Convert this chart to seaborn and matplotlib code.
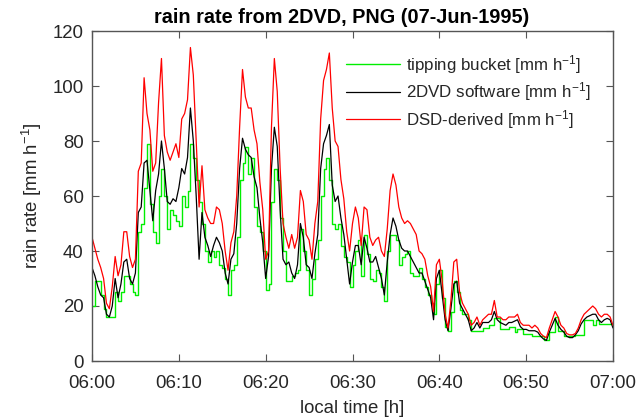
import numpy as np
import pandas as pd
import matplotlib
matplotlib.use("Agg")
import matplotlib.pyplot as plt
import seaborn as sns

# time grid: minutes after 06:00, 20-s steps
minutes = np.arange(181) / 3.0

dsd_derived = [
    45, 41, 37, 34, 30, 21, 19, 27, 38, 31, 35, 47, 47, 38, 34, 37, 69, 72,
    103, 90, 84, 69, 72, 94, 110, 82, 76, 73, 76, 79, 74, 88, 90, 95, 114, 104,
    80, 56, 71, 55, 52, 50, 50, 56, 55, 50, 40, 33, 43, 47, 60, 85, 106, 96,
    92, 92, 84, 79, 65, 55, 37, 40, 85, 110, 98, 70, 50, 45, 41, 46, 41, 45,
    62, 58, 46, 44, 37, 50, 58, 88, 102, 106, 112, 92, 80, 78, 66, 59, 47, 40,
    50, 56, 52, 42, 56, 55, 45, 42, 44, 45, 40, 38, 48, 62, 68, 64, 56, 52,
    50, 51, 50, 48, 46, 40, 39, 37, 31, 27, 18, 35, 37, 29, 17, 12, 22, 36,
    37, 25, 21, 19, 17, 13, 14, 16, 13, 15, 16, 17, 17, 22, 16, 16, 15, 15,
    16, 16, 16, 17, 14, 13, 13, 13, 12, 13, 12, 10, 9, 8.5, 12, 15, 18, 16,
    13, 12, 10, 9.5, 9.5, 10, 12, 15, 17, 18, 19, 20, 19, 17, 16, 17, 17, 16,
    13,
]

dvd_software = [
    34, 31, 27, 24, 23, 17, 16, 20, 30, 23, 28, 36, 37, 30, 28, 32, 54, 56,
    72, 73, 62, 51, 62, 68, 80, 70, 58, 57, 59, 58, 63, 70, 68, 74, 92, 80,
    60, 37, 54, 45, 42, 38, 42, 45, 43, 40, 32, 28, 37, 39, 50, 70, 81, 77,
    75, 74, 67, 63, 52, 43, 30, 38, 70, 85, 78, 55, 37, 35, 36, 32, 30, 35,
    50, 45, 35, 34, 30, 39, 46, 70, 79, 82, 86, 64, 58, 60, 52, 46, 37, 28,
    36, 42, 42, 35, 45, 41, 36, 36, 38, 34, 30, 24, 36, 46, 52, 49, 44, 41,
    40, 40, 38, 36, 34, 32, 32, 29, 26, 23, 15, 30, 33, 24, 15, 11, 19, 28,
    29, 21, 19, 17, 15, 11, 12, 14, 12, 14, 14, 14, 15, 18, 15, 14, 13.5, 13,
    14, 14, 14.5, 15, 12.5, 11.5, 11.5, 11, 11, 11, 10.5, 9, 8, 7.5, 10.5, 13, 15.5, 13,
    11.5, 10.5, 9, 8.5, 8.5, 9.5, 11, 13.5, 15, 16, 16.5, 17, 17, 15, 14, 15, 15.5, 15,
    12,
]

tipping_bucket = [
    20, 29, 29, 24, 19, 16, 16, 16, 25, 22, 25, 31, 31, 28, 25, 24, 47, 50,
    63, 79, 57, 47, 43, 60, 70, 60, 48, 55, 53, 51, 49, 60, 56, 62, 79, 74,
    66, 58, 50, 40, 36, 40, 38, 40, 35, 34, 30, 24, 33, 35, 45, 66, 72, 78,
    68, 74, 56, 49, 47, 40, 26, 28, 58, 70, 66, 52, 40, 29, 29, 31, 32, 33,
    48, 40, 33, 24, 30, 37, 44, 60, 70, 74, 66, 50, 48, 50, 42, 38, 36, 27,
    35, 40, 44, 31, 46, 39, 30, 29, 33, 32, 27, 22, 40, 46, 46, 44, 35, 38,
    39, 40, 32, 31, 31, 34, 30, 27, 24, 21, 17, 28, 33, 23, 12.5, 11, 18, 29,
    25, 18.5, 17, 17, 15, 11, 11, 11, 11, 12, 12, 13, 13, 15.5, 15.5, 11.5, 11.5, 11.5,
    12.5, 12.5, 10.5, 11.5, 11.5, 10, 10, 10, 9, 9, 9, 9, 7.5, 7.5, 10.5, 10.5, 16, 11,
    11, 9, 9, 9, 9, 9.5, 9.5, 9.5, 15, 15, 15, 13, 15, 13.5, 13.5, 13.5, 13.5, 13.5,
    12.5,
]

series_labels = [
    "tipping bucket [mm h$^{-1}$]",
    "2DVD software [mm h$^{-1}$]",
    "DSD-derived [mm h$^{-1}$]",
]
tick_minutes = [0, 10, 20, 30, 40, 50, 60]
tick_labels = ["06:00", "06:10", "06:20", "06:30", "06:40", "06:50", "07:00"]
y_ticks = [0, 20, 40, 60, 80, 100, 120]

sns.set_theme(style="ticks")
plt.rcParams["font.family"] = ["Liberation Sans", "DejaVu Sans"]
plt.rcParams["mathtext.fontset"] = "custom"
plt.rcParams["mathtext.rm"] = "Liberation Sans"
plt.rcParams["mathtext.it"] = "Liberation Sans"

text_col = "#262626"
fig = plt.figure(figsize=(6.41, 4.20), dpi=100)
ax = fig.add_axes([92 / 641, 1 - 361 / 420, 521 / 641, 330 / 420])

df = pd.DataFrame({"t": minutes, "tb": tipping_bucket, "dvd": dvd_software, "dsd": dsd_derived})
sns.lineplot(data=df, x="t", y="tb", ax=ax, color="#00ee00", lw=1.0,
             drawstyle="steps-post", label=series_labels[0])
sns.lineplot(data=df, x="t", y="dvd", ax=ax, color="black", lw=0.9, label=series_labels[1])
sns.lineplot(data=df, x="t", y="dsd", ax=ax, color="#ff0000", lw=0.9, label=series_labels[2])

ax.set_xlim(0, 60)
ax.set_ylim(0, 120)
ax.set_xticks(tick_minutes)
ax.set_xticklabels(tick_labels)
ax.set_yticks(y_ticks)
ax.tick_params(direction="in", length=5, width=0.8, top=True, right=True,
               labelsize=13.4, colors="#555555", labelcolor=text_col)
ax.tick_params(axis="x", pad=10)
ax.tick_params(axis="y", pad=6)
for s in ax.spines.values():
    s.set_visible(True)
    s.set_color("#555555")
    s.set_linewidth(1.0)

ax.set_xlabel("local time [h]", fontsize=13.4, color=text_col, labelpad=6)
ax.set_ylabel("rain rate [mm h$^{-1}$]", fontsize=13.4, color=text_col, labelpad=6)
ax.set_title("rain rate from 2DVD, PNG (07-Jun-1995)", fontsize=14.3,
             fontweight="bold", color="black", pad=6, x=0.48)

leg = ax.legend(loc="upper left", bbox_to_anchor=(0.488, 0.934), frameon=False,
                fontsize=12.2, handlelength=3.2, handletextpad=0.3,
                labelspacing=0.28, borderpad=0, borderaxespad=0)
for t in leg.get_texts():
    t.set_color(text_col)

fig.savefig("out.png", dpi=100)
